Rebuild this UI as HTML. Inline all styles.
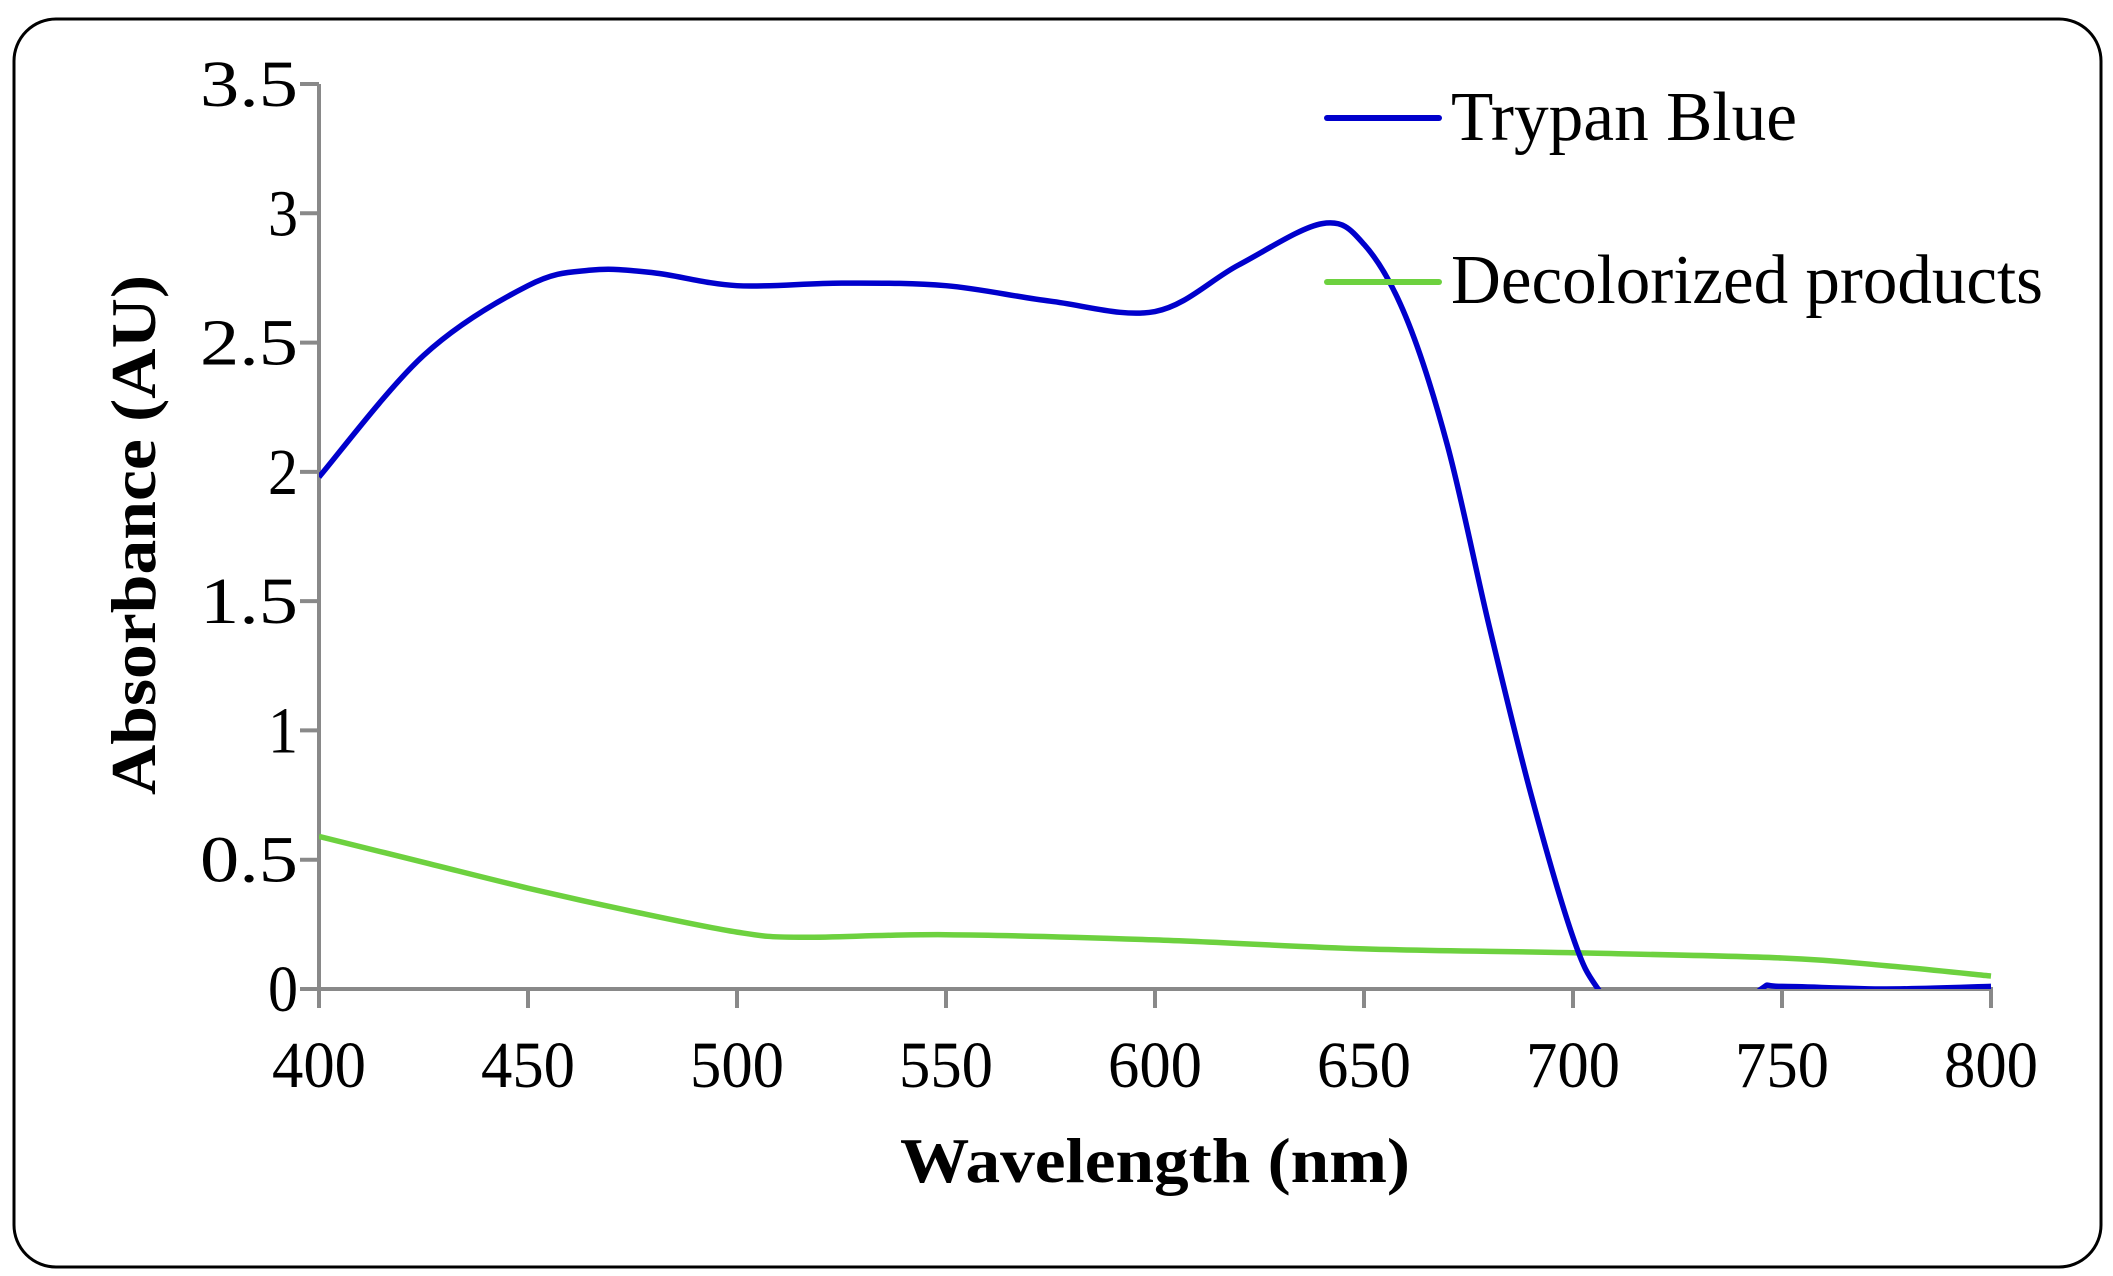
<!DOCTYPE html>
<html><head><meta charset="utf-8"><style>
html,body{margin:0;padding:0;background:#fff;}
svg{display:block;font-family:"Liberation Serif",serif;}
</style></head><body>
<svg id="chart" width="2113" height="1276" viewBox="0 0 2113 1276" xmlns="http://www.w3.org/2000/svg">
<rect x="14" y="19" width="2087" height="1248" rx="42" ry="42" fill="#fff" stroke="#000" stroke-width="3"/>
<defs><clipPath id="plotclip"><rect x="319" y="60" width="1680" height="929"/></clipPath></defs>
<g id="axes"></g>
<g id="series" clip-path="url(#plotclip)"></g>
<text x="1155" y="1182" text-anchor="middle" font-size="64" font-weight="bold" textLength="510" lengthAdjust="spacingAndGlyphs">Wavelength (nm)</text>
<text transform="translate(155,535) rotate(-90)" text-anchor="middle" font-size="64" font-weight="bold" textLength="520" lengthAdjust="spacingAndGlyphs">Absorbance (AU)</text>
<g>
<line x1="1327" y1="118" x2="1439" y2="118" stroke="#0000cc" stroke-width="6" stroke-linecap="round"/>
<text x="1451" y="140" font-size="70" textLength="346" lengthAdjust="spacingAndGlyphs">Trypan Blue</text>
<line x1="1327" y1="282" x2="1439" y2="282" stroke="#6dd13f" stroke-width="6" stroke-linecap="round"/>
<text x="1451" y="303" font-size="70" textLength="592" lengthAdjust="spacingAndGlyphs">Decolorized products</text>
</g>
</svg>
<script>
const xTicks=[400,450,500,550,600,650,700,750,800];
const yTicks=[0,0.5,1,1.5,2,2.5,3,3.5];
const yTickLabels=["0","0.5","1","1.5","2","2.5","3","3.5"];
const blueX=[400,425,450,465,480,500,525,550,575,600,620,640,650,660,670,680,690,700,706,715,735,745,750,775,800];
const blueY=[1.98,2.45,2.72,2.78,2.77,2.72,2.73,2.72,2.66,2.62,2.8,2.96,2.88,2.6,2.1,1.4,0.75,0.2,0,-0.15,-0.15,0,0.01,0,0.01];
const greenX=[400,425,450,475,500,515,550,600,650,700,750,775,800];
const greenY=[0.59,0.49,0.39,0.3,0.22,0.2,0.21,0.19,0.155,0.14,0.12,0.09,0.05];
const NS="http://www.w3.org/2000/svg";
const X0=319,X1=1991,Y0=989,Y1=84;
const sx=v=>X0+(v-400)/(800-400)*(X1-X0);
const sy=v=>Y0-(v/3.5)*(Y0-Y1);
const axes=document.getElementById('axes');
function mk(tag,attrs,parent){const e=document.createElementNS(NS,tag);for(const k in attrs)e.setAttribute(k,attrs[k]);parent.appendChild(e);return e;}
let yl=mk('line',{x1:X0,y1:Y1,x2:X0,y2:Y0+2,stroke:'#898989','stroke-width':4},axes);


let xl=mk('line',{x1:X0-19,y1:Y0,x2:X1+2,y2:Y0,stroke:'#898989','stroke-width':4},axes);


xTicks.forEach(t=>{
 const tk=mk('line',{x1:sx(t),y1:Y0,x2:sx(t),y2:Y0+19,stroke:'#898989','stroke-width':4},axes);
 
 
 const tx=mk('text',{x:sx(t),y:1087,'text-anchor':'middle','font-size':66,textLength:94,lengthAdjust:'spacingAndGlyphs'},axes);
 tx.textContent=t;
 
 
});
yTicks.forEach((t,i)=>{
 const tk=mk('line',{x1:X0-19,y1:sy(t),x2:X0,y2:sy(t),stroke:'#898989','stroke-width':4},axes);
 
 
 const lab=yTickLabels[i];
 const tx=mk('text',{x:298,y:sy(t)+22,'text-anchor':'end','font-size':66,textLength:lab.length===1?30:(lab.length*30+8),lengthAdjust:'spacingAndGlyphs'},axes);
 tx.textContent=lab;
 
 
});
function smooth(xs,ys){
 const p=xs.map((x,i)=>[sx(x),sy(ys[i])]);
 let d='M'+p[0][0]+','+p[0][1];
 for(let i=0;i<p.length-1;i++){
  const p0=p[i-1]||p[i],p1=p[i],p2=p[i+1],p3=p[i+2]||p2;
  const c1=[p1[0]+(p2[0]-p0[0])/6,p1[1]+(p2[1]-p0[1])/6];
  const c2=[p2[0]-(p3[0]-p1[0])/6,p2[1]-(p3[1]-p1[1])/6];
  d+=' C'+c1[0]+','+c1[1]+' '+c2[0]+','+c2[1]+' '+p2[0]+','+p2[1];
 }
 return d;
}
const ser=document.getElementById('series');
const g=mk('path',{d:smooth(greenX,greenY),fill:'none',stroke:'#6dd13f','stroke-width':5.5},ser);


const b=mk('path',{d:smooth(blueX,blueY),fill:'none',stroke:'#0000cc','stroke-width':5.5},ser);


</script>
</body></html>
